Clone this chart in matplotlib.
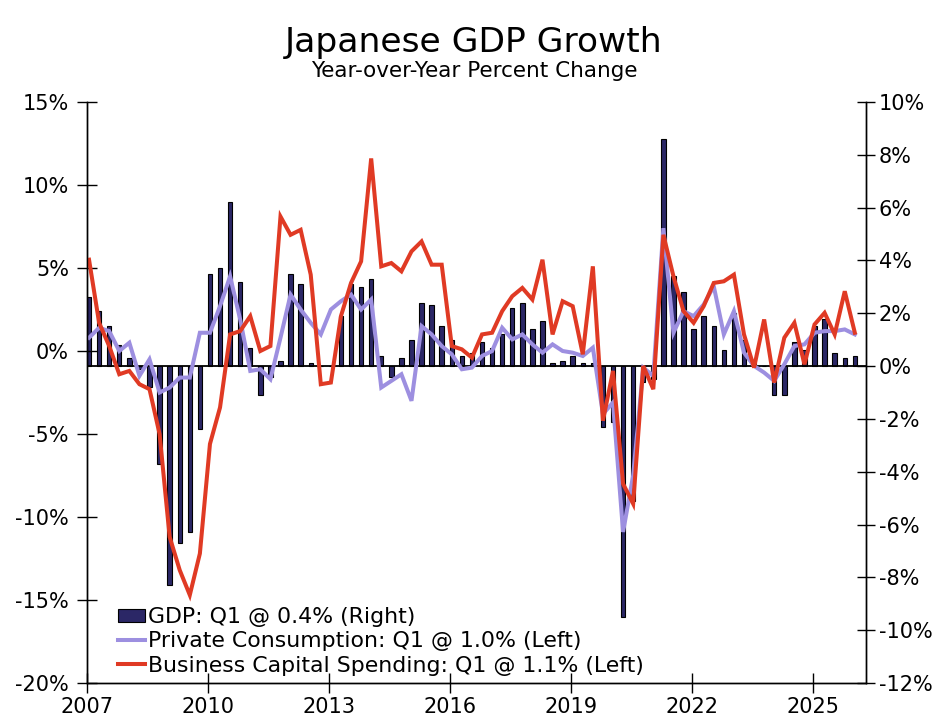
import matplotlib
matplotlib.use('Agg')
import matplotlib.pyplot as plt
import numpy as np
from matplotlib.patches import Patch
from matplotlib.lines import Line2D
from matplotlib.ticker import FuncFormatter

# Quarterly, 2007Q1 .. 2026Q1
start_year = 2007
gdp = [2.6, 2.1, 1.5, 0.8, 0.3, -0.1, -0.8, -3.7,
       -8.3, -6.7, -6.3, -2.4, 3.5, 3.7, 6.2, 3.2,
       0.7, -1.1, -0.4, 0.2, 3.5, 3.1, 0.1, 0.0,
       0.0, 1.9, 3.1, 3.0, 3.3, 0.4, -0.4, 0.3,
       1.0, 2.4, 2.3, 1.5, 1.0, 0.4, 0.5, 0.9,
       0.7, 1.2, 2.2, 2.4, 1.4, 1.7, 0.1, 0.2,
       0.4, 0.1, 0.1, -2.3, -2.1, -9.5, -5.1, -0.6,
       -0.5, 8.6, 3.4, 2.8, 1.4, 1.9, 1.5, 0.6,
       2.0, 1.0, 0.1, 0.0, -1.1, -1.1, 0.9, 0.6,
       1.5, 1.8, 0.5, 0.3, 0.4]
consumption = [0.8, 1.4, 1.2, 0.0, 0.5, -1.5, -0.5, -2.5,
               -2.2, -1.6, -1.6, 1.1, 1.1, 2.7, 4.5, 1.9,
               -1.2, -1.1, -1.7, 0.8, 3.4, 2.5, 1.7, 1.0,
               2.5, 3.0, 3.4, 2.5, 3.1, -2.2, -1.8, -1.4,
               -3.0, 1.5, 1.0, 0.3, -0.2, -1.1, -1.0, -0.3,
               0.0, 1.4, 0.7, 1.0, 0.4, -0.1, 0.4, 0.0,
               -0.1, -0.3, 0.2, -3.8, -3.1, -10.9, -7.5, -1.0,
               -1.5, 7.4, 1.1, 2.4, 2.1, 2.8, 3.9, 1.0,
               2.4, -0.1, -0.9, -1.3, -1.8, -0.8, 0.3, 0.4,
               1.1, 1.2, 1.2, 1.3, 1.0]
capex = [5.5, 1.7, 0.3, -1.4, -1.2, -2.0, -2.3, -5.0,
         -11.2, -13.2, -14.7, -12.2, -5.6, -3.4, 1.0, 1.2,
         2.1, 0.0, 0.3, 8.1, 7.0, 7.3, 4.6, -2.0,
         -1.9, 2.1, 4.1, 5.4, 11.6, 5.1, 5.3, 4.8,
         6.0, 6.6, 5.2, 5.2, 0.3, 0.1, -0.4, 1.0,
         1.1, 2.4, 3.3, 3.8, 3.1, 5.5, 1.0, 3.0,
         2.7, -0.2, 5.1, -4.2, -1.2, -8.0, -9.2, -0.9,
         -2.3, 7.0, 4.5, 2.4, 1.7, 2.7, 4.1, 4.2,
         4.6, 1.0, -1.0, 1.9, -1.9, 0.8, 1.7, -0.8,
         1.6, 2.3, 1.0, 3.6, 1.1]
labels = ['GDP: Q1 @ 0.4% (Right)',
          'Private Consumption: Q1 @ 1.0% (Left)',
          'Business Capital Spending: Q1 @ 1.1% (Left)']
year_ticks = [2007, 2010, 2013, 2016, 2019, 2022, 2025]

navy = '#2b2766'
purple = '#9d8fe0'
red = '#e03a24'

x = start_year + 0.05 + 0.25 * np.arange(len(gdp))

plt.rcParams['font.family'] = ['DejaVu Sans']
fig = plt.figure(figsize=(9.48, 7.26), dpi=100)
ax = fig.add_axes([0.0918, 0.0592, 0.8214, 0.8003])
ax2 = ax.twinx()

# bars on the right axis, lines on the left axis drawn on top
ax2.bar(x, gdp, width=0.11, color=navy, edgecolor='black', linewidth=0.8)
ax2.axhline(0, color='black', lw=1.3)
ax.plot(x, consumption, color=purple, lw=2.9, solid_joinstyle='miter')
ax.plot(x, capex, color=red, lw=2.9, solid_joinstyle='miter')
ax.set_zorder(ax2.get_zorder() + 1)
ax.patch.set_visible(False)

ax.set_xlim(2007, 2026.32)
ax.set_ylim(-20, 15)
ax2.set_ylim(-12, 10)
ax.set_xticks(year_ticks)
ax.set_yticks(range(-20, 16, 5))
ax2.set_yticks(range(-12, 11, 2))
pct = FuncFormatter(lambda v, p: '%d%%' % v)
ax.yaxis.set_major_formatter(pct)
ax2.yaxis.set_major_formatter(pct)

for a in (ax, ax2):
    a.spines['top'].set_visible(False)
    for s in a.spines.values():
        s.set_linewidth(1.0)
ax.tick_params(axis='x', direction='inout', length=14, width=1, labelsize=15, pad=3)
ax.tick_params(axis='y', direction='inout', length=14, width=1, labelsize=15, pad=6)
ax2.tick_params(axis='y', direction='inout', length=13, width=1, labelsize=15, pad=3)

handles = [Patch(facecolor=navy, edgecolor='black', linewidth=0.8),
           Line2D([], [], color=purple, lw=2.9),
           Line2D([], [], color=red, lw=2.9)]
ax.legend(handles, labels, loc='upper left', bbox_to_anchor=(0.040, 0.131),
          frameon=False, fontsize=15.8, handlelength=1.22, handleheight=0.55,
          handletextpad=0.12, labelspacing=0.2, borderpad=0, borderaxespad=0)

fig.text(0.5, 0.941, 'Japanese GDP Growth', ha='center', va='center', fontsize=24.8)
fig.text(0.5, 0.902, 'Year-over-Year Percent Change', ha='center', va='center', fontsize=15.5)

fig.savefig('out.png', dpi=100)
